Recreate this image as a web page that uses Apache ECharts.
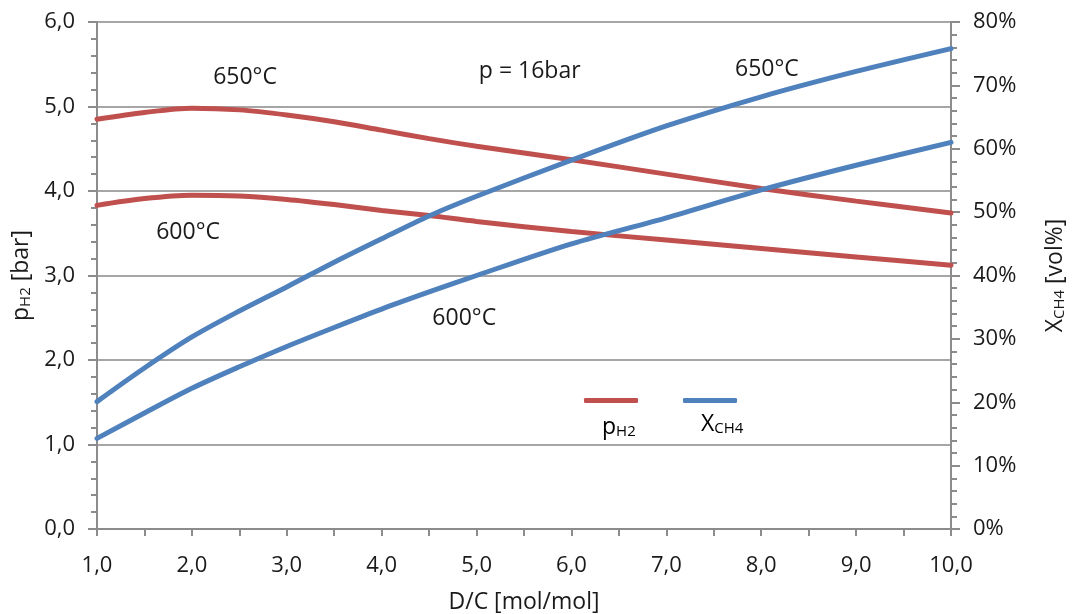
<!DOCTYPE html>
<html>
<head>
<meta charset="utf-8">
<script src="https://cdn.jsdelivr.net/npm/echarts@6/dist/echarts.min.js"></script>
<style>
  html, body { margin: 0; padding: 0; background: #fff; }
  #chart { width: 1073px; height: 614px; }
</style>
</head>
<body>
<div id="chart"></div>
<script>
// D/C ratio (mol/mol) sample points
const dcRatio = [1, 1.5, 2, 2.5, 3, 3.5, 4, 4.5, 5, 6, 7, 8, 9, 10];

// Hydrogen partial pressure [bar]
const pH2_650 = [4.85, 4.93, 4.98, 4.96, 4.90, 4.82, 4.72, 4.62, 4.53, 4.37, 4.20, 4.03, 3.88, 3.74];
const pH2_600 = [3.83, 3.91, 3.95, 3.94, 3.90, 3.84, 3.77, 3.71, 3.64, 3.52, 3.42, 3.32, 3.22, 3.12];

// Methane content [vol%]
const xCH4_650 = [20.1, 25.4, 30.3, 34.4, 38.2, 42.1, 45.8, 49.4, 52.5, 58.2, 63.6, 68.2, 72.2, 75.8];
const xCH4_600 = [14.3, 18.3, 22.2, 25.6, 28.8, 31.8, 34.7, 37.4, 40.0, 45.0, 49.1, 53.5, 57.4, 61.0];

// Tick settings
const xTicks = { min: 1, max: 10, interval: 1 };
const leftTicks = { min: 0, max: 6, interval: 1 };
const rightTicks = { min: 0, max: 80, interval: 10 };

// Curve annotations: [D/C, pH2 position, text]
const notes = [
  [2.56, 5.34, '650°C'],
  [5.56, 5.41, 'p = 16bar'],
  [8.06, 5.44, '650°C'],
  [1.96, 3.51, '600°C'],
  [4.87, 2.49, '600°C']
];

const RED = '#C0504D';
const BLUE = '#4F81BD';
const AXIS = '#8c8c8c';
const TEXT = '#1a1a1a';
const FONT = 'Open Sans';

const comma1 = v => Number(v).toFixed(1).replace('.', ',');
const pairs = ys => dcRatio.map((x, i) => [x, ys[i]]);

const subRich = {
  m: { fontSize: 23, color: TEXT, fontFamily: FONT, verticalAlign: 'bottom', lineHeight: 28 },
  s: { fontSize: 15, color: TEXT, fontFamily: FONT, verticalAlign: 'bottom', lineHeight: 13 }
};

const chart = echarts.init(document.getElementById('chart'), null, { renderer: 'canvas' });

const lineSeries = (name, ys, color, yAxisIndex) => ({
  name, type: 'line', yAxisIndex, smooth: 0.3, symbol: 'none',
  data: pairs(ys),
  lineStyle: { color, width: 5, cap: 'round' },
  itemStyle: { color },
  silent: true, z: color === BLUE ? 3 : 2
});

chart.setOption({
  animation: false,
  backgroundColor: '#fff',
  textStyle: { fontFamily: FONT, color: TEXT },
  grid: { left: 97, right: 122, top: 22, bottom: 85, containLabel: false, outerBoundsMode: 'none' },
  legend: {
    data: [{ name: 'pH2' }, { name: 'XCH4' }],
    left: 584, top: 398, padding: 0,
    icon: 'roundRect', itemWidth: 54, itemHeight: 5, itemGap: 45,
    formatter: () => '',
    textStyle: { fontSize: 10 },
    selectedMode: false
  },
  xAxis: {
    type: 'value', ...xTicks,
    name: 'D/C [mol/mol]', nameLocation: 'middle', nameGap: 62,
    nameTextStyle: { fontSize: 23, color: TEXT, fontFamily: FONT },
    axisLine: { lineStyle: { color: AXIS, width: 2 } },
    axisTick: { length: 7, lineStyle: { color: AXIS, width: 2 } },
    minorTick: { show: true, splitNumber: 2, length: 7, lineStyle: { color: AXIS, width: 2 } },
    axisLabel: { fontSize: 22, color: TEXT, margin: 26, formatter: comma1 },
    splitLine: { show: false }
  },
  yAxis: [
    {
      type: 'value', position: 'left', ...leftTicks,
      name: '{m|p}{s|H2}{m| [bar]}', nameLocation: 'middle', nameGap: 52, nameRotate: 90,
      nameTextStyle: { rich: subRich },
      axisLine: { show: true, lineStyle: { color: AXIS, width: 2 } },
      axisTick: { show: true, length: 9, lineStyle: { color: AXIS, width: 2 } },
      minorTick: { show: true, splitNumber: 5, length: 6, lineStyle: { color: AXIS, width: 2 } },
      axisLabel: { fontSize: 22, color: TEXT, margin: 22, formatter: comma1 },
      splitLine: { show: true, lineStyle: { color: '#a6a6a6', width: 2 } }
    },
    {
      type: 'value', position: 'right', ...rightTicks,
      name: '{m|X}{s|CH4}{m| [vol%]}', nameLocation: 'middle', nameGap: 88, nameRotate: 90,
      nameTextStyle: { rich: subRich },
      axisLine: { show: true, lineStyle: { color: AXIS, width: 2 } },
      axisTick: { show: true, length: 9, lineStyle: { color: AXIS, width: 2 } },
      minorTick: { show: true, splitNumber: 5, length: 6, lineStyle: { color: AXIS, width: 2 } },
      axisLabel: { fontSize: 22, color: TEXT, margin: 22, formatter: '{value}%' },
      splitLine: { show: false }
    }
  ],
  graphic: [
    {
      type: 'text', left: 602, top: 416, silent: true,
      style: { text: '{m|p}{s|H2}', rich: subRich }
    },
    {
      type: 'text', left: 701, top: 413, silent: true,
      style: { text: '{m|X}{s|CH4}', rich: subRich }
    }
  ],
  series: [
    lineSeries('pH2', pH2_650, RED, 0),
    lineSeries('pH2', pH2_600, RED, 0),
    lineSeries('XCH4', xCH4_650, BLUE, 1),
    lineSeries('XCH4', xCH4_600, BLUE, 1),
    {
      name: 'notes', type: 'scatter', yAxisIndex: 0, symbolSize: 0, silent: true,
      data: notes,
      itemStyle: { opacity: 1 },
      emphasis: { disabled: true },
      label: {
        show: true, position: 'inside', formatter: p => p.data[2],
        fontSize: 23, color: TEXT, fontFamily: FONT, opacity: 1,
        textBorderWidth: 0
      }
    }
  ]
});
</script>
</body>
</html>
